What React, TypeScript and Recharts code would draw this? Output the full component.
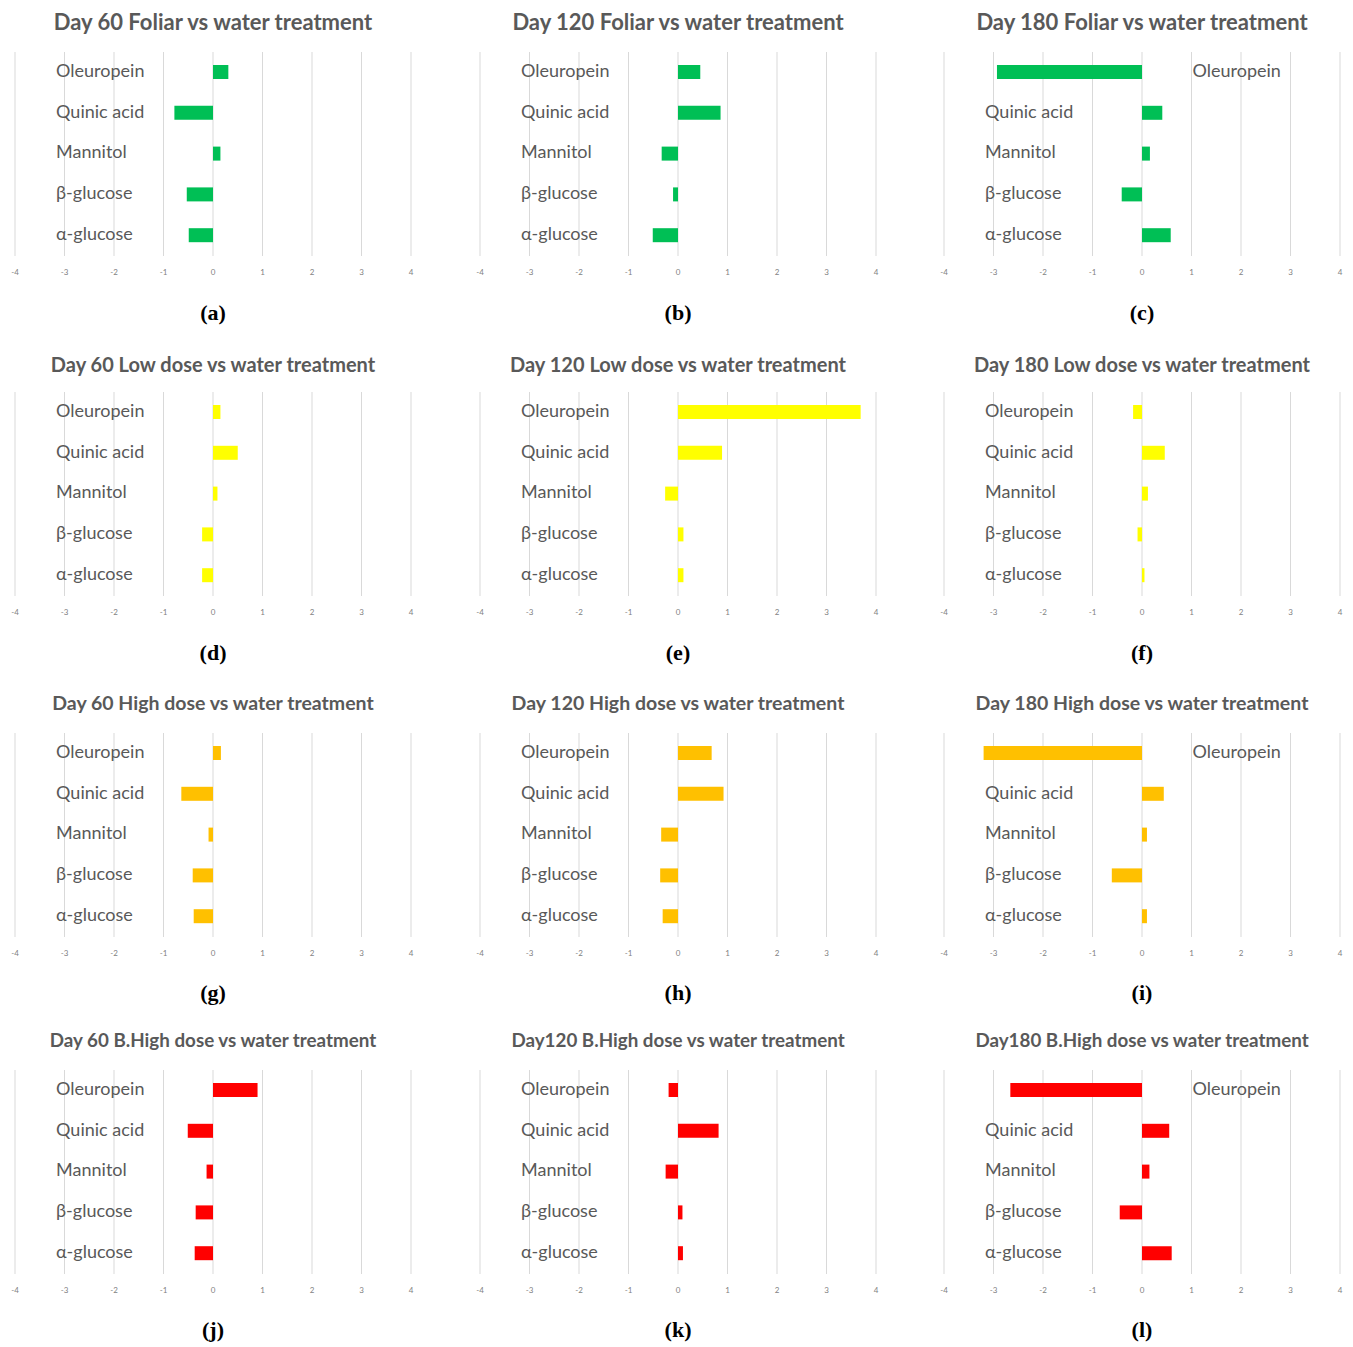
import React from "react";
import { BarChart, Bar, XAxis, YAxis, CartesianGrid } from "recharts";

const compounds = ["Oleuropein", "Quinic acid", "Mannitol", "β-glucose", "α-glucose"];
const xTicks = [-4, -3, -2, -1, 0, 1, 2, 3, 4];

// log fold changes vs water treatment
const foliar60 = [0.31, -0.78, 0.15, -0.53, -0.49];
const foliar120 = [0.45, 0.86, -0.33, -0.1, -0.51];
const foliar180 = [-2.93, 0.41, 0.16, -0.41, 0.58];
const low60 = [0.15, 0.5, 0.09, -0.22, -0.22];
const low120 = [3.69, 0.89, -0.26, 0.11, 0.11];
const low180 = [-0.18, 0.46, 0.12, -0.09, 0.05];
const high60 = [0.16, -0.64, -0.09, -0.41, -0.39];
const high120 = [0.68, 0.92, -0.34, -0.36, -0.31];
const high180 = [-3.2, 0.44, 0.1, -0.61, 0.1];
const bhigh60 = [0.9, -0.51, -0.13, -0.35, -0.37];
const bhigh120 = [-0.19, 0.82, -0.25, 0.09, 0.1];
const bhigh180 = [-2.66, 0.55, 0.15, -0.45, 0.6];

const titles = [
  "Day 60 Foliar vs water treatment",
  "Day 120 Foliar vs water treatment",
  "Day 180 Foliar vs water treatment",
  "Day 60 Low dose vs water treatment",
  "Day 120 Low dose vs water treatment",
  "Day 180 Low dose vs water treatment",
  "Day 60 High dose vs water treatment",
  "Day 120 High dose vs water treatment",
  "Day 180 High dose vs water treatment",
  "Day 60 B.High dose vs water treatment",
  "Day120 B.High dose vs water treatment",
  "Day180 B.High dose vs water treatment",
];
const captions = ["a", "b", "c", "d", "e", "f", "g", "h", "i", "j", "k", "l"];
const seriesValues = [
  foliar60, foliar120, foliar180,
  low60, low120, low180,
  high60, high120, high180,
  bhigh60, bhigh120, bhigh180,
];
const rowColors = ["#00BF55", "#FFFF00", "#FFC000", "#FF0000"];

const COL_LEFT = [15, 480, 944];
const PLOT_W = 396;
const ROW_TOP = [52, 392, 733, 1070];
const PLOT_H = 204;
const TITLE_Y = [22, 364, 703, 1040];
const TITLE_SIZE = [22, 20, 19.5, 18.8];
const CAPTION_Y = [313, 653, 993, 1330];
const ML = 30;
const MR = 30;
const MT = 10;
const Y_W = 2;
const X_MIN = -4;
const X_MAX = 4;

const textColor = "#595959";

function CompoundTick(props: any) {
  const { y, payload, values } = props;
  const i = compounds.indexOf(payload.value);
  const v = values[i];
  const at = v < -2 ? 1.02 : -3.17;
  const x = ML + ((at - X_MIN) / (X_MAX - X_MIN)) * PLOT_W;
  return (
    <text
      x={x}
      y={y - 2}
      dy="0.35em"
      textAnchor="start"
      fill={textColor}
      fontSize={18}
      fontFamily="Lato, sans-serif"
    >
      {payload.value}
    </text>
  );
}

function Panel({ idx }: { idx: number }) {
  const row = Math.floor(idx / 3);
  const col = idx % 3;
  const values = seriesValues[idx];
  const data = compounds.map((name, i) => ({ name, value: values[i] }));
  const plotLeft = COL_LEFT[col];
  const center = plotLeft + PLOT_W / 2;
  return (
    <>
      <div
        style={{
          position: "absolute",
          left: center - 230,
          width: 460,
          top: TITLE_Y[row] - 14,
          lineHeight: "28px",
          textAlign: "center",
          fontFamily: "Lato, sans-serif",
          fontWeight: 700,
          fontSize: TITLE_SIZE[row],
          color: textColor,
          whiteSpace: "nowrap",
        }}
      >
        {titles[idx]}
      </div>
      <div style={{ position: "absolute", left: plotLeft - ML, top: ROW_TOP[row] - MT }}>
        <BarChart
          width={PLOT_W + ML + MR}
          height={MT + PLOT_H + 30}
          data={data}
          layout="vertical"
          margin={{ top: MT, right: MR, left: ML - Y_W, bottom: 0 }}
        >
          <CartesianGrid horizontal={false} stroke="#d9d9d9" />
          <XAxis
            type="number"
            domain={[X_MIN, X_MAX]}
            ticks={xTicks}
            axisLine={false}
            tickLine={false}
            tickMargin={7}
            height={30}
            interval={0}
            tick={{ fontSize: 8, fill: "#7f7f7f", fontFamily: "Lato, sans-serif" }}
          />
          <YAxis
            type="category"
            dataKey="name"
            width={Y_W}
            axisLine={false}
            tickLine={false}
            interval={0}
            tick={<CompoundTick values={values} />}
          />
          <Bar dataKey="value" fill={rowColors[row]} barSize={14} isAnimationActive={false} />
        </BarChart>
      </div>
      <div
        style={{
          position: "absolute",
          left: center - 40,
          width: 80,
          top: CAPTION_Y[row] - 14,
          lineHeight: "28px",
          textAlign: "center",
          fontFamily: "'Liberation Serif', 'Times New Roman', serif",
          fontWeight: 700,
          fontSize: 22,
          color: "#000",
        }}
      >
        ({captions[idx]})
      </div>
    </>
  );
}

export default function App() {
  return (
    <div
      style={{
        position: "absolute",
        left: 0,
        top: 0,
        width: 1353,
        height: 1347,
        background: "#fff",
        overflow: "hidden",
      }}
    >
      {titles.map((_, i) => (
        <Panel key={i} idx={i} />
      ))}
    </div>
  );
}
